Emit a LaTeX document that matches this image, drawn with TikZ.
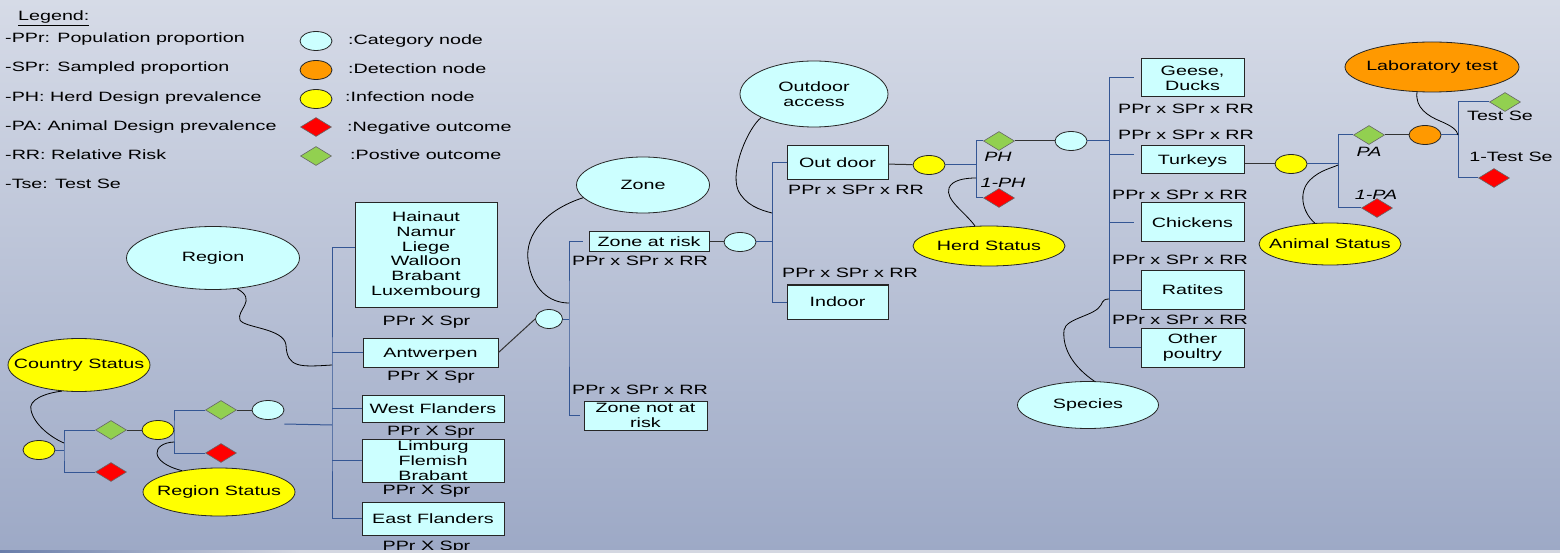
\documentclass[tikz,border=0pt]{standalone}
\usepackage{fontspec}
\setmainfont{Liberation Sans}[FakeStretch = 1.46]
\usetikzlibrary{shapes.geometric}
\definecolor{catcol}{RGB}{204,255,255}
\definecolor{detcol}{RGB}{255,153,0}
\definecolor{infcol}{RGB}{255,255,0}
\definecolor{negcol}{RGB}{255,0,0}
\definecolor{poscol}{RGB}{146,208,80}
\definecolor{linkblue}{RGB}{52,86,148}
\definecolor{bgtop}{RGB}{214,219,231}
\definecolor{bgbot}{RGB}{157,169,198}
\definecolor{stripblue}{RGB}{105,125,170}
\definecolor{striplight}{RGB}{212,215,225}
\newcommand{\calltext}[1]{\makebox[0pt]{#1}}
\begin{document}
\begin{tikzpicture}[x = 1pt, y = -1pt,
        font = \fontsize{13.5}{14.8}\selectfont,
        lbl/.style = {inner sep = 0pt, text height = 9.7pt, text depth = 0pt},
        cat/.style = {ellipse, draw = black!85, line width = 0.8pt, fill = catcol, inner sep = 0pt, minimum width = 32pt, minimum height = 19pt},
        det/.style = {cat, fill = detcol},
        inf/.style = {cat, fill = infcol},
        negout/.style = {diamond, draw = black!60, line width = 0.6pt, fill = negcol, inner sep = 0pt, minimum width = 31pt, minimum height = 19pt},
        posout/.style = {negout, fill = poscol},
        box/.style = {draw = black!85, line width = 1pt, fill = catcol, inner sep = 0pt, text height = 9.7pt, text depth = 0pt},
        mbox/.style = {draw = black!85, line width = 1pt, fill = catcol, inner sep = 0pt, align = center},
        conn/.style = {draw = linkblue, line width = 1pt},
        link/.style = {draw = black!80, line width = 1pt},
        note/.style = {draw = black, line width = 0.8pt}]
    \useasboundingbox (0, 0) rectangle (1560, 553);
    \shade [top color = bgtop, bottom color = bgbot] (0, 0) rectangle (1560, 550);

    % legend
    \node [lbl, anchor = west] (legttl) at (18, 16) {\underline{Legend:}};
    \node [lbl, anchor = west] (legppr) at (5, 38) {-PPr: Population proportion};
    \node [lbl, anchor = west] (legspr) at (5, 67) {-SPr: Sampled proportion};
    \node [lbl, anchor = west] (legph) at (5, 97) {-PH: Herd Design prevalence};
    \node [lbl, anchor = west] (legpa) at (5, 126) {-PA: Animal Design prevalence};
    \node [lbl, anchor = west] (legrr) at (5, 155) {-RR: Relative Risk};
    \node [lbl, anchor = west] (legtse) at (5, 184) {-Tse: Test Se};
    \node [cat] (legcat) at (316, 41) {};
    \node [det] (legdet) at (316, 70) {};
    \node [inf] (leginf) at (316, 99) {};
    \node [negout] (legneg) at (316, 127) {};
    \node [posout] (legpos) at (316, 156) {};
    \node [lbl, anchor = west] (legcatt) at (348, 40) {:Category node};
    \node [lbl, anchor = west] (legdett) at (348, 69) {:Detection node};
    \node [lbl, anchor = west] (leginft) at (345, 97) {:Infection node};
    \node [lbl, anchor = west] (legnegt) at (347, 127) {:Negative outcome};
    \node [lbl, anchor = west] (legpost) at (350, 155) {:Postive outcome};

    % trunks and pins
    \coordinate (t1) at (64, 450);
    \coordinate (t2) at (174, 430);
    \coordinate (t3) at (332, 425);
    \coordinate (t4) at (569, 319);
    \coordinate (t5) at (772, 242);
    \coordinate (t6) at (976, 165);
    \coordinate (t7) at (1109, 141);
    \coordinate (t8) at (1338, 164);
    \coordinate (t9) at (1458, 135);
    \coordinate (bturk) at (1134, 155);
    \coordinate (ctrypin) at (64, 443);
    \coordinate (rstpin) at (174, 442);
    \coordinate (regpin) at (332, 365);
    \coordinate (zonepin) at (569, 303);
    \coordinate (outpin) at (772, 213);
    \coordinate (herdpin) at (976, 178);
    \coordinate (specpin) at (1109, 299);
    \coordinate (animpin) at (1338, 165);
    \coordinate (labpin) at (1458, 135);

    % country and region status
    \node [inf] (root) at (39, 450) {};
    \node [posout] (d1) at (111, 430) {};
    \node [negout] (n1) at (111, 472) {};
    \node [inf] (rs) at (158, 430) {};
    \node [posout] (d2) at (221, 410) {};
    \node [negout] (n2) at (221, 453) {};
    \node [cat] (cc1) at (268, 410) {};
    \draw [conn] (root) -- (t1);
    \draw [conn] (d1) -| (t1) |- (n1);
    \draw [link] (d1) -- (rs);
    \draw [conn] (rs) -- (t2);
    \draw [conn] (d2) -| (t2) |- (n2);
    \draw [link] (d2) -- (cc1);
    \draw [conn] ([yshift = -14pt]cc1.east) -- (t3);

    % regions
    \node [mbox, minimum width = 142pt, minimum height = 104pt] (hain) at (426, 255) {Hainaut\\Namur\\Liege\\Walloon\\Brabant\\Luxembourg};
    \node [box, minimum width = 135pt, minimum height = 29pt] (antw) at (430.5, 352.5) {Antwerpen};
    \node [box, minimum width = 142pt, minimum height = 27pt] (wfl) at (433, 408.5) {West Flanders};
    \node [mbox, minimum width = 142pt, minimum height = 43pt] (limb) at (433, 460.5) {Limburg\\Flemish\\Brabant};
    \node [box, minimum width = 142pt, minimum height = 33pt] (efl) at (433, 518.5) {East Flanders};
    \draw [conn] ([yshift = 7pt]hain.west) -| (t3) |- (efl);
    \draw [conn] (antw) -- (antw -| t3);
    \draw [conn] (wfl) -- (wfl -| t3);
    \draw [conn] (limb) -- (limb -| t3);
    \node [lbl] (phain) at (426.5, 321) {PPr X Spr};
    \node [lbl] (pantw) at (431, 376) {PPr X Spr};
    \node [lbl] (pwfl) at (431, 431) {PPr X Spr};
    \node [lbl] (plimb) at (426.5, 490) {PPr X Spr};
    \node [lbl] (pefl) at (426.5, 546) {PPr X Spr};

    % zones
    \node [cat, minimum width = 27pt] (ze) at (549, 319) {};
    \node [box, minimum width = 120pt, minimum height = 20pt] (zrisk) at (649, 242) {Zone at risk};
    \node [mbox, minimum width = 123pt, minimum height = 29pt] (znot) at (645.5, 415.5) {Zone not at\\risk};
    \draw [link] (antw.east) -- (ze.west);
    \draw [conn] (ze) -- (t4);
    \draw [conn] ([xshift = -6pt]zrisk.west) -| (t4) |- ([xshift = -4pt]znot.west);
    \node [lbl] (pzr) at (640, 261) {PPr x SPr x RR};
    \node [lbl] (pzn) at (640, 390) {PPr x SPr x RR};

    % outdoor access
    \node [cat] (cc2) at (740, 242) {};
    \draw [link] (zrisk) -- (cc2);
    \draw [conn] (cc2) -- (t5);
    \node [box, minimum width = 101pt, minimum height = 34pt] (odoor) at (837.5, 163) {Out door};
    \node [box, minimum width = 101pt, minimum height = 34pt] (indoor) at (837.5, 302) {Indoor};
    \draw [conn] (odoor) -| (t5) |- (indoor);
    \node [lbl] (pod) at (856, 190) {PPr x SPr x RR};
    \node [lbl] (pin) at (850, 273) {PPr x SPr x RR};

    % herd
    \node [inf] (ih) at (929, 165) {};
    \node [posout] (dph) at (999, 141) {};
    \node [negout] (nph) at (999, 198) {};
    \draw [link] (odoor) -- (ih);
    \draw [conn] (ih) -- (t6);
    \draw [conn] (dph) -| (t6) |- (nph);
    \node [lbl] (lph) at (998, 157) {\itshape PH};
    \node [lbl] (l1ph) at (1003, 183) {\itshape 1-PH};
    \node [cat] (cc3) at (1071, 141) {};
    \draw [link] (dph) -- (cc3);
    \draw [conn] (cc3) -- (t7);

    % species
    \node [mbox, minimum width = 103pt, minimum height = 38pt] (geese) at (1192.5, 78) {Geese,\\Ducks};
    \node [box, minimum width = 103pt, minimum height = 28pt] (turk) at (1192.5, 160) {Turkeys};
    \node [box, minimum width = 103pt, minimum height = 39pt] (chick) at (1192.5, 222.5) {Chickens};
    \node [box, minimum width = 103pt, minimum height = 38pt] (ratit) at (1192.5, 290) {Ratites};
    \node [mbox, minimum width = 103pt, minimum height = 39pt] (other) at (1192.5, 347.5) {Other\\poultry};
    \draw [conn] ([xshift = -7pt]geese.west) -| (t7) |- (other);
    \draw [conn] (bturk) -- (bturk -| t7);
    \draw [conn] ([xshift = -7pt]chick.west) -- (chick -| t7);
    \draw [conn] (ratit) -- (ratit -| t7);
    \node [lbl] (pgee) at (1186, 109) {PPr x SPr x RR};
    \node [lbl] (ptur) at (1186, 135) {PPr x SPr x RR};
    \node [lbl] (pchi) at (1180, 195) {PPr x SPr x RR};
    \node [lbl] (prat) at (1180, 260) {PPr x SPr x RR};
    \node [lbl] (poth) at (1180, 320) {PPr x SPr x RR};

    % animal and test
    \node [inf] (ia) at (1291, 164) {};
    \draw [link] ([yshift = -4pt]turk.east) -- (ia);
    \draw [conn] (ia) -- (t8);
    \node [posout] (dpa) at (1369, 135) {};
    \node [negout] (npa) at (1377, 208) {};
    \draw [conn] (dpa) -| (t8) |- (npa);
    \node [lbl] (lpa) at (1369, 152) {\itshape PA};
    \node [lbl] (l1pa) at (1376, 195) {\itshape 1-PA};
    \node [det] (dt) at (1425, 135) {};
    \draw [link] (dpa) -- (dt);
    \draw [conn] (dt) -- (t9);
    \node [posout] (dts) at (1505, 102) {};
    \node [negout] (nts) at (1494, 178) {};
    \draw [conn] (dts) -| (t9) |- (nts);
    \node [lbl] (lts) at (1500, 116) {Test Se};
    \node [lbl] (l1ts) at (1511, 157) {1-Test Se};

    % callouts
    \node [inf, minimum width = 142pt, minimum height = 53pt] (ctry) at (79, 365) {\calltext{Country Status}};
    \node [inf, minimum width = 152pt, minimum height = 48pt] (rstat) at (219, 492) {\calltext{Region Status}};
    \node [cat, minimum width = 173pt, minimum height = 63pt] (region) at (213, 258) {\calltext{Region}};
    \node [cat, minimum width = 133pt, minimum height = 56pt] (zone) at (643, 185) {\calltext{Zone}};
    \node [cat, minimum width = 148pt, minimum height = 66pt, align = center] (outacc) at (814, 94) {Outdoor\\access};
    \node [inf, minimum width = 152pt, minimum height = 40pt] (herd) at (989, 246) {\calltext{Herd Status}};
    \node [cat, minimum width = 141pt, minimum height = 47pt] (spec) at (1088, 405) {\calltext{Species}};
    \node [inf, minimum width = 142pt, minimum height = 42pt] (anim) at (1330, 244) {\calltext{Animal Status}};
    \node [det, minimum width = 174pt, minimum height = 50pt] (lab) at (1432, 67) {\calltext{Laboratory test}};
    \draw [note] (ctry.-123) .. controls (45, 393) and (28, 400) .. (31, 410) .. controls (34, 425) and (52, 438) .. (ctrypin);
    \draw [note] (rstat.150) .. controls (148, 462) and (152, 443) .. (rstpin);
    \draw [note] (region.-52) .. controls (258, 300) and (236, 310) .. (240, 320) .. controls (244, 328) and (284, 328) .. (286, 345) .. controls (287, 368) and (300, 367) .. (regpin);
    \draw [note] (zone.-168) .. controls (545, 210) and (525, 235) .. (528, 260) .. controls (532, 290) and (550, 303) .. (zonepin);
    \draw [note] (outacc.-156) .. controls (748, 128) and (730, 170) .. (738, 190) .. controls (745, 205) and (760, 210) .. (outpin);
    \draw [note] (herd.125) .. controls (965, 212) and (945, 200) .. (949, 188) .. controls (952, 180) and (965, 178) .. (herdpin);
    \draw [note] (spec.75) .. controls (1075, 368) and (1062, 350) .. (1064, 330) .. controls (1066, 318) and (1095, 316) .. (1101, 305) .. controls (1103, 300) and (1105, 299) .. (specpin);
    \draw [note] (anim.126) .. controls (1302, 212) and (1298, 192) .. (1310, 180) .. controls (1320, 170) and (1332, 168) .. (animpin);
    \draw [note] (lab.-121) .. controls (1415, 108) and (1428, 116) .. (1440, 121) .. controls (1452, 126) and (1457, 130) .. (labpin);

    \shade [left color = stripblue, right color = striplight] (0, 550) rectangle (300, 553); % bottom strip
    \fill [striplight] (300, 550) rectangle (1560, 553);
\end{tikzpicture}
\end{document}
